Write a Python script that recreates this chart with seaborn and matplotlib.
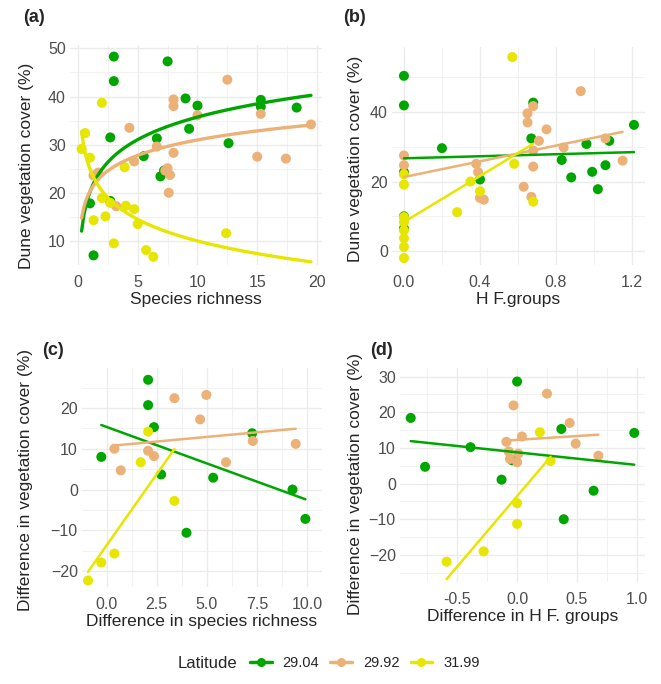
import matplotlib
matplotlib.use('Agg')
import matplotlib.pyplot as plt
from matplotlib.lines import Line2D
from matplotlib.ticker import MultipleLocator, FormatStrFormatter
import seaborn as sns
import pandas as pd

latitudes = ["29.04", "29.92", "31.99"]
colours = ["#00A600", "#ECB176", "#E6E600"]

# (a) species richness vs dune vegetation cover
a_x_2904 = [3.0, 3.0, 7.5, 9.0, 10.0, 9.3, 2.7, 6.6, 5.5, 6.9, 7.2, 1.0, 1.3, 2.7, 12.6, 15.3, 15.3, 18.3]
a_y_2904 = [48.3, 43.2, 47.3, 39.6, 38.1, 33.3, 31.5, 31.3, 27.6, 23.4, 24.6, 17.8, 7.0, 18.3, 30.3, 39.3, 37.9, 37.7]
a_x_2992 = [12.5, 8.0, 8.0, 10.0, 15.3, 19.5, 4.3, 6.6, 8.0, 4.7, 15.0, 17.4, 7.5, 7.3, 7.7, 7.6, 1.3, 1.7, 3.2]
a_y_2992 = [43.5, 39.4, 38.0, 36.1, 36.4, 34.2, 33.5, 29.6, 28.3, 26.5, 27.5, 27.1, 25.1, 24.6, 23.7, 20.0, 23.6, 24.2, 17.2]
a_x_3199 = [2.0, 0.6, 0.3, 1.0, 3.9, 2.0, 2.7, 2.3, 1.3, 4.0, 4.7, 5.0, 3.0, 5.7, 6.3, 12.4]
a_y_3199 = [38.7, 32.4, 29.1, 27.3, 25.3, 18.9, 17.9, 15.1, 14.3, 17.3, 16.6, 13.5, 9.5, 8.1, 6.7, 11.6]

# (b) H F.groups vs dune vegetation cover
b_x_2904 = [0.0, 0.0, 0.0, 0.0, 0.0, 0.2, 0.4, 0.68, 0.67, 0.83, 0.88, 0.96, 0.99, 1.02, 1.06, 1.08, 1.21]
b_y_2904 = [50.4, 41.9, 22.7, 10.0, 6.5, 29.6, 20.6, 42.7, 32.4, 26.2, 21.2, 30.8, 22.8, 17.8, 24.7, 31.7, 36.3]
b_x_2992 = [0.0, 0.0, 0.38, 0.39, 0.4, 0.42, 0.65, 0.65, 0.68, 0.75, 0.71, 0.68, 0.68, 0.63, 0.67, 0.93, 0.84, 1.06, 1.15]
b_y_2992 = [27.5, 24.7, 25.1, 22.7, 15.3, 14.8, 39.6, 37.0, 41.7, 35.0, 31.7, 28.9, 24.3, 18.5, 15.6, 46.0, 29.8, 32.4, 26.0]
b_x_3199 = [0.57, 0.0, 0.0, 0.0, 0.0, 0.0, 0.0, 0.0, 0.0, 0.35, 0.4, 0.28, 0.58, 0.68]
b_y_3199 = [55.8, 22.1, 19.1, 9.8, 8.3, 6.0, 3.7, 1.2, -2.0, 20.0, 17.2, 11.2, 25.1, 14.2]

# (c) difference in species richness vs difference in cover
c_x_2904 = [2.07, 2.07, 2.36, -0.26, 2.72, 5.31, 3.98, 7.25, 9.26, 9.9]
c_y_2904 = [26.9, 20.7, 15.3, 8.0, 3.7, 2.9, -10.6, 13.8, 0.0, -7.2]
c_x_2992 = [0.39, 0.71, 2.07, 2.36, 3.38, 4.97, 4.66, 5.95, 7.28, 9.42]
c_y_2992 = [10.0, 4.7, 9.5, 8.2, 22.4, 23.2, 17.2, 6.7, 11.9, 11.2]
c_x_3199 = [-0.92, -0.26, 0.39, 1.7, 2.07, 3.38]
c_y_3199 = [-22.3, -17.9, -15.7, 6.7, 14.2, -2.8]

# (d) difference in H F. groups vs difference in cover
d_x_2904 = [-0.89, -0.77, -0.39, -0.13, 0.0, 0.37, 0.39, 0.64, 0.98, -0.04]
d_y_2904 = [18.4, 4.7, 10.2, 1.1, 28.6, 15.3, -10.0, -2.0, 14.2, 6.5]
d_x_2992 = [0.25, -0.03, 0.44, 0.04, -0.09, 0.49, -0.07, 0.01, -0.06, 0.0, 0.68]
d_y_2992 = [25.2, 21.9, 17.0, 13.2, 11.7, 11.2, 9.0, 8.4, 6.9, 6.0, 7.8]
d_x_3199 = [0.19, 0.28, 0.0, 0.0, -0.28, -0.59]
d_y_3199 = [14.4, 6.3, -5.5, -11.3, -19.0, -21.9]


def make_df(xs, ys):
    parts = []
    for lat, x, y in zip(latitudes, xs, ys):
        parts.append(pd.DataFrame({"x": x, "y": y, "Latitude": lat}))
    return pd.concat(parts, ignore_index=True)


sns.set_style("white")
plt.rcParams['font.family'] = ['Liberation Sans', 'DejaVu Sans']
pal = dict(zip(latitudes, colours))

fig = plt.figure(figsize=(6.61, 6.84), dpi=100)


def panel(rect, df, xlim, ylim, xmaj, xmin, ymaj, ymin, xfmt, xlabel, ylabel,
          ylab_pos, logx=False, lw=1.8):
    ax = fig.add_axes(rect)
    sns.scatterplot(data=df, x="x", y="y", hue="Latitude", palette=pal, s=52,
                    linewidth=0, legend=False, ax=ax, zorder=2)
    if logx:
        # curves run over the whole data range of the panel
        ax.set_xlim(df.x.min(), df.x.max())
    for lat, col in zip(latitudes, colours):
        sub = df[df.Latitude == lat]
        sns.regplot(data=sub, x="x", y="y", ax=ax, scatter=False, ci=None,
                    logx=logx, truncate=not logx, color=col,
                    line_kws=dict(lw=lw, zorder=3))
    ax.set_xlim(*xlim)
    ax.set_ylim(*ylim)
    ax.xaxis.set_major_locator(MultipleLocator(xmaj))
    ax.xaxis.set_minor_locator(MultipleLocator(xmin))
    ax.yaxis.set_major_locator(MultipleLocator(ymaj))
    ax.yaxis.set_minor_locator(MultipleLocator(ymin))
    ax.xaxis.set_major_formatter(FormatStrFormatter(xfmt))
    ax.grid(which="major", color="#EBEBEB", lw=1.0)
    ax.grid(which="minor", color="#F0F0F0", lw=0.6)
    ax.set_axisbelow(True)
    for s in ax.spines.values():
        s.set_visible(False)
    ax.tick_params(axis="x", which="both", length=0, pad=7.5, labelsize=11.5, labelcolor="#4D4D4D")
    ax.tick_params(axis="y", which="both", length=0, pad=3, labelsize=11.5, labelcolor="#4D4D4D")
    ax.set_xlabel(xlabel, fontsize=12.5, labelpad=1)
    ax.set_ylabel(ylabel, fontsize=12.5)
    ax.yaxis.set_label_coords(*ylab_pos)
    return ax


panel([0.1059, 0.6126, 0.3812, 0.3216], make_df([a_x_2904, a_x_2992, a_x_3199], [a_y_2904, a_y_2992, a_y_3199]),
      (-0.67, 20.42), (5.0, 50.7), 5, 2.5, 10, 5, "%g",
      "Species richness", "Dune vegetation cover (%)", (-0.143, 0.45), logx=True, lw=2.4)
panel([0.5930, 0.6126, 0.3828, 0.3187], make_df([b_x_2904, b_x_2992, b_x_3199], [b_y_2904, b_y_2992, b_y_3199]),
      (-0.063, 1.268), (-4.0, 58.7), 0.4, 0.2, 20, 10, "%.1f",
      "H F.groups", "Dune vegetation cover (%)", (-0.115, 0.486))
panel([0.1241, 0.1418, 0.3631, 0.3202], make_df([c_x_2904, c_x_2992, c_x_3199], [c_y_2904, c_y_2992, c_y_3199]),
      (-1.22, 10.73), (-23.9, 29.8), 2.5, 1.25, 10, 5, "%.1f",
      "Difference in species richness", "Difference in vegetation cover (%)", (-0.204, 0.49))
panel([0.6051, 0.1491, 0.3707, 0.3129], make_df([d_x_2904, d_x_2992, d_x_3199], [d_y_2904, d_y_2992, d_y_3199]),
      (-0.98, 1.07), (-27.6, 32.4), 0.5, 0.25, 10, 5, "%.1f",
      "Difference in H F. groups", "Difference in vegetation cover (%)", (-0.151, 0.46))

for tag, x, y in [("(a)", 0.035, 0.987), ("(b)", 0.519, 0.987), ("(c)", 0.0635, 0.500), ("(d)", 0.56, 0.500)]:
    fig.text(x, y, tag, fontsize=13, fontweight="bold", va="top", ha="left")

fig.text(0.268, 0.0307, "Latitude", fontsize=12, va="center", ha="left")
handles = [Line2D([0], [0], color=c, lw=2.5, marker="o", ms=6.5, markeredgewidth=0) for c in colours]
fig.legend(handles, latitudes, ncol=3, loc="center left", bbox_to_anchor=(0.367, 0.0307),
           frameon=False, fontsize=10.5, handlelength=1.5, handletextpad=0.75, columnspacing=0.75,
           borderpad=0.0)

fig.savefig("out.png", dpi=100)
